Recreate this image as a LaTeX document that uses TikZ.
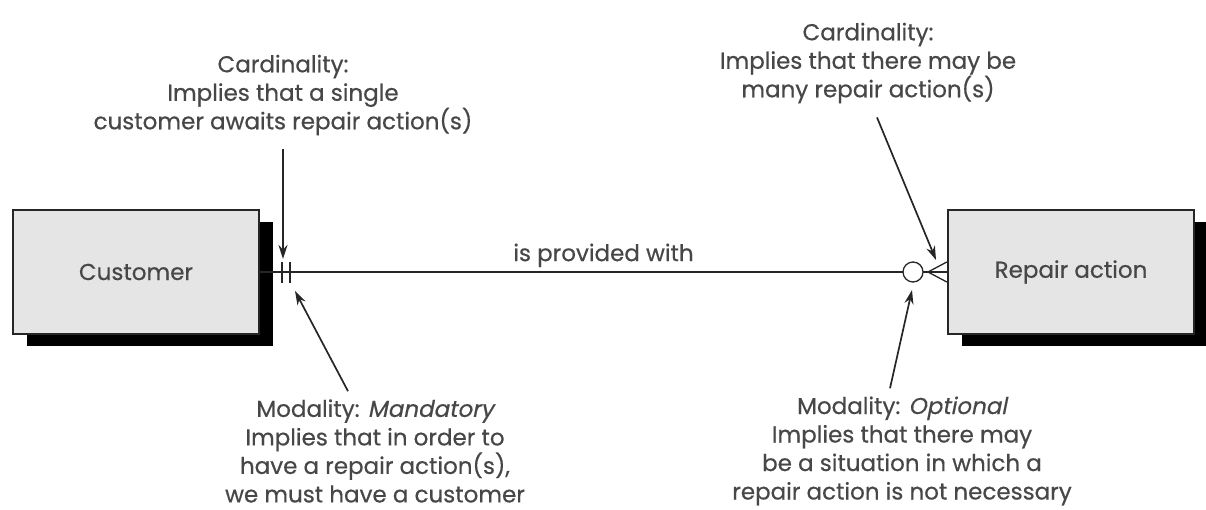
\documentclass[tikz,border=0pt]{standalone}
\usepackage{fontspec}
\setmainfont{Poppins}[FakeBold=0.5]
\newfontfamily\slantfont{Poppins}[FakeSlant=0.2, FakeBold=0.5]
\usepackage{tikz}
\usetikzlibrary{arrows.meta, positioning, shadows}

\tikzset{
    entity/.style={draw=black!85, line width=2.4pt, fill=black!10, minimum width=246pt, minimum height=124pt,
        general shadow={fill=black, shadow xshift=14pt, shadow yshift=-12pt}},
    note/.style={draw=black!85, line width=1.7pt, -{Stealth[length=14pt, width=9pt]}},
    notetext/.style={align=center, text=black!72, inner sep=0pt}
}

\begin{document}
\begin{tikzpicture}[x=1pt, y=-1pt, every node/.style={font=\fontsize{23}{28.5}\selectfont}]
    \useasboundingbox (0,0) rectangle (1206,510);

    % Entities
    \node[entity] (cust) at (136,272) {\textcolor{black!72}{Customer}};
    \node[entity] (rep) at (1071,272) {\textcolor{black!72}{Repair action}};

    % Relationship
    \draw[line width=1.8pt, black!85] (cust.east) -- node[above, text=black!72, inner sep=4pt] (rel) {is provided with} (rep.west);

    % One and only one
    \draw[line width=1.3pt, black!85] (282,262) -- (282,283);
    \draw[line width=1.3pt, black!85] (290,262) -- (290,283);

    % Zero or many
    \draw[line width=1.3pt, black!85, fill=white] (913,272) circle (10);
    \draw[line width=1.3pt, black!85] (rep.west) ++(0,-10) -- (928,272) -- ([yshift=-10pt]rep.west);
    \draw[line width=1.3pt, black!85] (928,272) -- (rep.west);

    % Annotations
    \node[notetext] (cardL) at (283,95) {Cardinality:\\Implies that a single\\customer awaits repair action(s)};
    \node[notetext] (cardR) at (868,63) {Cardinality:\\Implies that there may be\\many repair action(s)};
    \node[notetext] (modL) at (375,451) {Modality: {\slantfont Mandatory}\\Implies that in order to\\have a repair action(s),\\we must have a customer};
    \node[notetext] (modR) at (902,451) {Modality: {\slantfont Optional}\\Implies that there may\\be a situation in which a\\repair action is not necessary};

    \coordinate (barTip) at (283,259);
    \coordinate (footTip) at (936,260);
    \coordinate (mandTip) at (295,291);
    \coordinate (optTip) at (912,290);

    \draw[note] ([yshift=-14pt]cardL.south) -- (barTip);
    \draw[note] ([shift={(9pt,-14pt)}]cardR.south) -- (footTip);
    \draw[note] ([shift={(-27pt,8pt)}]modL.north) -- (mandTip);
    \draw[note] ([shift={(-12pt,8pt)}]modR.north) -- (optTip);
\end{tikzpicture}
\end{document}
